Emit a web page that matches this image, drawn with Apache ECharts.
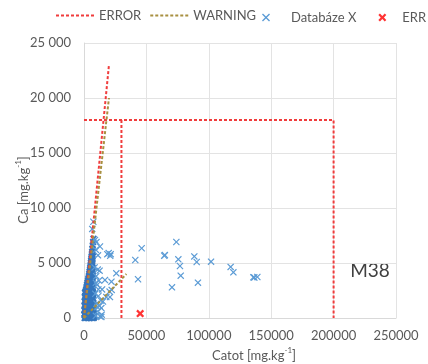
<!DOCTYPE html>
<html>
<head>
<meta charset="utf-8">
<script src="https://cdn.jsdelivr.net/npm/echarts@6/dist/echarts.min.js"></script>
<style>
  html, body { margin: 0; padding: 0; background: #fff; }
  #chart { width: 428px; height: 364px; }
</style>
</head>
<body>
<div id="chart"></div>
<script>
// Axis ranges
const xMax = 250000, xStep = 50000;
const yMax = 25000, yStep = 5000;

// ERROR limit lines
const errorSteep = [[0, 0], [20000, 23000]];
const errorFrame = [[0, 18000], [200000, 18000], [200000, 0]];
const errorCut = [[30000, 0], [30000, 18000]];

// WARNING limit lines
const warningSteep = [[0, 0], [20000, 20000]];
const warningShallow = [[0, 0], [34000, 4000]];

// Database samples: dense core near the origin
const databazeCore = [
  [500, 0], [1700, 0], [2900, 0], [4100, 0], [5300, 0], [6500, 0], [7700, 0],
  [900, 200], [2100, 200], [3300, 200], [4500, 200], [5700, 200], [6900, 200], [8100, 200],
  [600, 400], [1800, 400], [3000, 400], [4200, 400], [5400, 400], [6600, 400], [7800, 400],
  [1000, 600], [2200, 600], [3400, 600], [4600, 600], [5800, 600], [7000, 600],
  [700, 800], [1900, 800], [3100, 800], [4300, 800], [5500, 800], [6700, 800], [7700, 800],
  [1100, 1000], [2300, 1000], [3500, 1000], [4700, 1000], [5900, 1000], [7100, 1000],
  [800, 1200], [2000, 1200], [3200, 1200], [4400, 1200], [5600, 1200], [6800, 1200], [7600, 1200],
  [1200, 1400], [2400, 1400], [3600, 1400], [4800, 1400], [6000, 1400], [7200, 1400],
  [900, 1600], [2100, 1600], [3300, 1600], [4500, 1600], [5700, 1600], [6900, 1600],
  [1300, 1800], [2500, 1800], [3700, 1800], [4900, 1800], [6100, 1800], [7300, 1800],
  [1000, 2000], [2200, 2000], [3400, 2000], [4600, 2000], [5800, 2000], [7000, 2000],
  [1400, 2200], [2600, 2200], [3800, 2200], [5000, 2200], [6200, 2200], [7100, 2200],
  [1200, 2400], [2400, 2400], [3600, 2400], [4800, 2400], [6000, 2400], [6900, 2400],
  [1700, 2600], [2900, 2600], [4100, 2600], [5300, 2600], [6500, 2600],
  [2000, 2800], [3200, 2800], [4400, 2800], [5600, 2800], [6800, 2800],
  [2400, 3000], [3600, 3000], [4800, 3000], [6000, 3000], [7000, 3000],
  [2800, 3200], [4000, 3200], [5200, 3200], [6400, 3200],
  [3200, 3400], [4300, 3400], [5400, 3400], [6600, 3400],
  [3500, 3600], [4600, 3600], [5700, 3600], [6800, 3600],
  [3900, 3800], [5000, 3800], [6000, 3800], [6900, 3800],
  [4200, 4000], [5200, 4000], [6200, 4000],
  [4500, 4200], [5500, 4200], [6500, 4200],
  [4800, 4400], [5800, 4400], [6700, 4400],
  [5000, 4600], [6000, 4600], [6800, 4600],
  [5300, 4800], [6200, 4800], [5500, 5000], [6400, 5000],
  [5700, 5200], [6600, 5200], [5900, 5400], [6700, 5400],
  [6100, 5600], [6900, 5600], [6300, 5800], [6500, 6000], [7200, 6000],
  [6700, 6300], [7000, 6600], [7300, 6900], [7600, 7200]
];

// Database samples: in-between rows of the dense core
const databazeCoreFill = [
  [1100, 100], [2300, 100], [3500, 100], [4700, 100], [5900, 100], [7100, 100], [8300, 100],
  [300, 300], [1500, 300], [2700, 300], [3900, 300], [5100, 300], [6300, 300], [7500, 300],
  [1200, 500], [2400, 500], [3600, 500], [4800, 500], [6000, 500], [7300, 500],
  [400, 700], [1600, 700], [2800, 700], [4000, 700], [5200, 700], [6400, 700], [7500, 700],
  [1300, 900], [2500, 900], [3700, 900], [4900, 900], [6100, 900], [7300, 900],
  [500, 1100], [1700, 1100], [2900, 1100], [4100, 1100], [5300, 1100], [6500, 1100], [7400, 1100],
  [1400, 1300], [2600, 1300], [3800, 1300], [5000, 1300], [6200, 1300], [7300, 1300],
  [600, 1500], [1800, 1500], [3000, 1500], [4200, 1500], [5400, 1500], [6600, 1500],
  [1500, 1700], [2700, 1700], [3900, 1700], [5100, 1700], [6300, 1700], [7100, 1700],
  [700, 1900], [1900, 1900], [3100, 1900], [4300, 1900], [5500, 1900], [6700, 1900],
  [1600, 2100], [2800, 2100], [4000, 2100], [5200, 2100], [6400, 2100],
  [800, 2300], [2000, 2300], [3200, 2300], [4400, 2300], [5600, 2300], [6700, 2300],
  [1800, 2500], [3000, 2500], [4200, 2500], [5400, 2500], [6600, 2500],
  [2300, 2700], [3500, 2700], [4700, 2700], [5900, 2700], [6900, 2700],
  [2600, 2900], [3800, 2900], [5000, 2900], [6200, 2900],
  [3000, 3100], [4200, 3100], [5400, 3100], [6600, 3100],
  [3400, 3300], [4600, 3300], [5800, 3300], [6800, 3300],
  [3800, 3500], [4900, 3500], [6000, 3500],
  [4100, 3700], [5200, 3700], [6300, 3700],
  [4500, 3900], [5500, 3900], [6500, 3900],
  [4700, 4100], [5700, 4100], [6600, 4100],
  [5000, 4300], [6000, 4300], [6900, 4300],
  [5300, 4500], [6200, 4500], [5500, 4700], [6400, 4700],
  [5800, 4900], [6700, 4900], [6000, 5100], [6200, 5300], [6400, 5500], [6600, 5700]
];

// Database samples: spread-out points
const databazeSpread = [
  [9500, 200], [11000, 600], [10000, 1300], [12500, 1100],
  [9000, 2200], [11500, 2000], [13500, 1600], [10500, 3000],
  [14500, 2600], [9800, 3800], [12000, 3400], [8500, 4600], [11000, 4400],
  [13900, 100], [14200, 300], [12800, 150], [10700, 1000], [13900, 900],
  [15200, 1500], [17900, 1900], [20800, 1900], [20500, 2400], [22200, 2550],
  [22000, 3300], [16800, 3450], [25900, 4060], [11500, 2600], [9500, 3200],
  [12500, 4300],
  [7500, 8750], [6600, 8100], [8800, 7100], [10000, 6900], [12800, 6500],
  [9500, 6200], [11200, 5700], [18700, 5800], [21400, 5800], [21000, 5650],
  [19800, 5900],
  [41100, 5270], [46200, 6340], [43300, 3520], [64300, 5660], [64800, 5720],
  [74000, 6910], [75600, 5330], [76900, 4730], [77500, 3850], [70500, 2790],
  [88400, 5600], [90300, 5090], [91300, 3210], [101800, 5120], [117500, 4640],
  [119700, 4150], [135700, 3700], [136500, 3680], [138900, 3730]
];

// Flagged sample
const errPoints = [[45000, 400]];

const legendNames = ['ERROR', 'WARNING', 'Databáze X', 'ERR'];

const RED = '#f03c3c';
const OLIVE = '#a89040';
const BLUE = '#5b9bd5';
const BLUE_DENSE = '#3576bd';
const ERR_RED = '#ff0000';
const TEXT = '#595959';
const FONT = 'Lato';

const thinX = 'path://M0,1.2L1.2,0L5,3.8L8.8,0L10,1.2L6.2,5L10,8.8L8.8,10L5,6.2L1.2,10L0,8.8L3.8,5Z';
const heavyX = 'path://M0,1.8L1.8,0L5,3.2L8.2,0L10,1.8L6.8,5L10,8.2L8.2,10L5,6.8L1.8,10L0,8.2L3.2,5Z';
const boldX = 'path://M0,2L2,0L5,3L8,0L10,2L7,5L10,8L8,10L5,7L2,10L0,8L3,5Z';

function spaced(v) {
  if (v < 1000) return String(v);
  return Math.floor(v / 1000) + ' ' + String(v % 1000).padStart(3, '0');
}

function limitLine(name, data, color) {
  return {
    name: name, type: 'line', data: data, symbol: 'none', silent: true,
    lineStyle: { color: color, width: 2, type: [3, 2] },
    itemStyle: { color: color }
  };
}

// Overlapping markers of the crowded core read as a darker mass
const denseItems = databazeCore.concat(databazeCoreFill)
  .map(p => ({ value: p, symbol: heavyX, itemStyle: { color: BLUE_DENSE } }));

const richTitle = {
  a: { fontSize: 13, fontFamily: FONT, fill: TEXT, lineHeight: 16, verticalAlign: 'bottom' },
  s: { fontSize: 8, fontFamily: FONT, fill: TEXT, lineHeight: 16, verticalAlign: 'top' }
};

const chart = echarts.init(document.getElementById('chart'));
chart.setOption({
  animation: false,
  textStyle: { fontFamily: FONT },
  grid: { left: 84, right: 32, top: 43, bottom: 46 },
  legend: [
    {
      data: [
        { name: legendNames[0], itemStyle: { opacity: 0 } },
        { name: legendNames[1], itemStyle: { opacity: 0 } }
      ],
      left: 55, top: 9, padding: 0, itemWidth: 38, itemHeight: 10, itemGap: 8,
      textStyle: { color: TEXT, fontSize: 13, fontFamily: FONT }
    },
    {
      data: [
        { name: legendNames[2], textStyle: { padding: [0, 0, 0, 15] } },
        { name: legendNames[3], textStyle: { padding: [0, 0, 0, 10] } }
      ],
      left: 262, top: 11, padding: 0, width: 200, itemWidth: 10, itemHeight: 8, itemGap: 22,
      textStyle: { color: TEXT, fontSize: 13, fontFamily: FONT }
    }
  ],
  xAxis: {
    type: 'value', min: 0, max: xMax, interval: xStep,
    axisLine: { show: true, lineStyle: { color: '#d9d9d9' } },
    axisTick: { show: false },
    splitLine: { show: true, lineStyle: { color: '#e3e3e3' } },
    axisLabel: { color: TEXT, fontSize: 13, fontFamily: FONT, margin: 11, formatter: v => String(v) }
  },
  yAxis: {
    type: 'value', min: 0, max: yMax, interval: yStep,
    axisLine: { show: true, lineStyle: { color: '#d9d9d9' } },
    axisTick: { show: false },
    splitLine: { show: true, lineStyle: { color: '#e3e3e3' } },
    axisLabel: { color: TEXT, fontSize: 13, fontFamily: FONT, margin: 13, formatter: spaced }
  },
  graphic: [
    {
      type: 'text', x: 254, y: 354,
      style: { text: '{a|Catot [mg.kg}{s|-1}{a|]}', align: 'center', verticalAlign: 'middle', rich: richTitle }
    },
    {
      type: 'text', x: 22, y: 190, rotation: Math.PI / 2,
      style: { text: '{a|Ca [mg.kg}{s|-1}{a|]}', align: 'center', verticalAlign: 'middle', rich: richTitle }
    },
    {
      type: 'text', x: 370, y: 271,
      style: { text: 'M38', align: 'center', verticalAlign: 'middle', fontSize: 19, fontFamily: FONT, fill: '#404040' }
    }
  ],
  series: [
    limitLine('ERROR', errorSteep, RED),
    limitLine('ERROR', errorFrame, RED),
    limitLine('ERROR', errorCut, RED),
    limitLine('WARNING', warningSteep, OLIVE),
    limitLine('WARNING', warningShallow, OLIVE),
    {
      name: 'Databáze X', type: 'scatter',
      data: denseItems.concat(databazeSpread),
      symbol: thinX, symbolSize: 7, itemStyle: { color: BLUE, opacity: 1 }
    },
    {
      name: 'ERR', type: 'scatter', data: errPoints,
      symbol: boldX, symbolSize: 8, itemStyle: { color: ERR_RED }
    }
  ]
});
</script>
</body>
</html>
